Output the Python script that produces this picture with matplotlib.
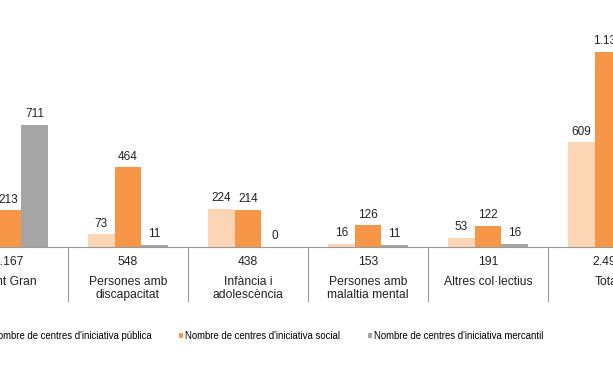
import matplotlib.pyplot as plt
import numpy as np
from matplotlib.patches import Patch

plt.rcParams['font.family'] = ['Liberation Sans', 'DejaVu Sans']

# data
categories = ['Gent Gran', 'Persones amb\ndiscapacitat', 'Infància i\nadolescència',
              'Persones amb\nmalaltia mental', 'Altres col·lectius', 'Total']
publica = [243, 73, 224, 16, 53, 609]
social = [213, 464, 214, 126, 122, 1139]
mercantil = [711, 11, 0, 11, 16, 749]
totals = [1167, 548, 438, 153, 191, 2497]
series_names = ["Nombre de centres d'iniciativa pública",
                "Nombre de centres d'iniciativa social",
                "Nombre de centres d'iniciativa mercantil"]
colors = ['#FCD5B5', '#F79646', '#A5A5A5']


def fmt(v):
    return '{:,}'.format(v).replace(',', '.')


W, H = 613, 368
fig = plt.figure(figsize=(W / 100, H / 100), dpi=100)
# the axes run past the left/right edges (the original picture is cropped)
ax = fig.add_axes([-52 / W, (H - 247) / H, 720 / W, 247 / H])

x = np.arange(len(categories))
bw = 0.222
for i, (vals, c) in enumerate(zip([publica, social, mercantil], colors)):
    xs = x + (i - 1) * bw
    ax.bar(xs, vals, width=bw, color=c, edgecolor='none')
    for xi, v in zip(xs, vals):
        ax.annotate(fmt(v), (xi, v), xytext=(0, 3.5), textcoords='offset points',
                    ha='center', va='bottom', fontsize=8.5, color='#222222')

ax.set_xlim(-0.5, len(categories) - 0.5)
ax.set_ylim(0, 247 / 0.1716)
for s in ['top', 'left', 'right']:
    ax.spines[s].set_visible(False)
ax.spines['bottom'].set_color('#999999')
ax.set_xticks([])
ax.set_yticks([])

# table under the bars
tr = ax.get_xaxis_transform()
for b in np.arange(-0.5, len(categories), 1.0):
    ax.plot([b, b], [0, -54 / 247], transform=tr, color='#999999', lw=0.8, clip_on=False)
for xi, t, name in zip(x, totals, categories):
    ax.text(xi, -15 / 247, fmt(t), transform=tr, ha='center', va='center',
            fontsize=8.7, color='#222222')
    ax.text(xi, -29 / 247, name, transform=tr, ha='center', va='top',
            fontsize=8.7, color='#222222', linespacing=1.15)

handles = [Patch(facecolor=c, edgecolor='none') for c in colors]
fig.legend(handles, series_names, loc='center', bbox_to_anchor=(264 / W, (H - 336) / H),
           ncol=3, frameon=False, fontsize=6.9, handlelength=0.45, handleheight=0.45,
           handletextpad=0.2, columnspacing=2.9)

fig.savefig('out.png', dpi=100)
